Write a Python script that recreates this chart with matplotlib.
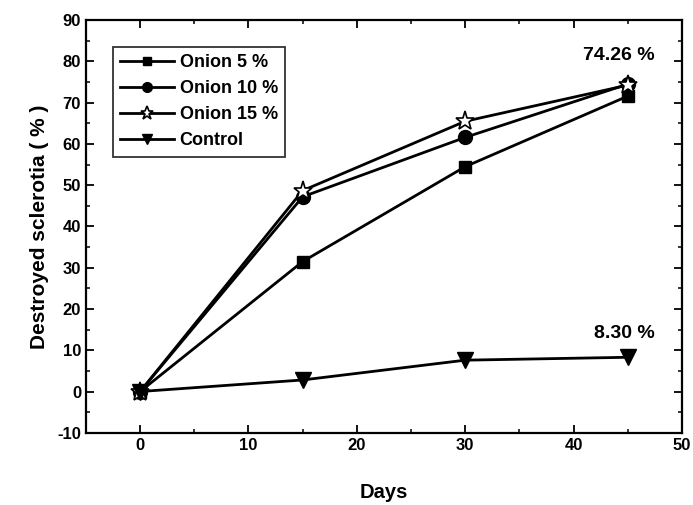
import matplotlib.pyplot as plt
from matplotlib.ticker import MultipleLocator

plt.rcParams['font.family'] = ['Liberation Sans', 'DejaVu Sans']
plt.rcParams['font.weight'] = 'bold'
plt.rcParams['axes.unicode_minus'] = False

days = [0, 15, 30, 45]
onion5 = [0, 31.5, 54.5, 71.6]
onion10 = [0, 47.2, 61.6, 74.5]
onion15 = [0, 48.7, 65.5, 74.26]
control = [0, 2.8, 7.6, 8.30]

fig = plt.figure(figsize=(6.93, 5.05), dpi=100)
ax = fig.add_axes([0.124, 0.143, 0.86, 0.817])

ax.plot(days, onion5, color='black', lw=2, marker='s', ms=9, label='Onion 5 %')
ax.plot(days, onion10, color='black', lw=2, marker='o', ms=10, label='Onion 10 %')
ax.plot(days, onion15, color='black', lw=2, marker='*', ms=14, mfc='white',
        mec='black', mew=1.2, label='Onion 15 %')
ax.plot(days, control, color='black', lw=2, marker='v', ms=11, label='Control')

ax.text(44.2, 79.5, '74.26 %', ha='center', va='bottom', fontsize=14, fontweight='bold')
ax.text(44.7, 12, '8.30 %', ha='center', va='bottom', fontsize=14, fontweight='bold')

ax.set_xlim(-5, 50)
ax.set_ylim(-10, 90)
ax.xaxis.set_major_locator(MultipleLocator(10))
ax.xaxis.set_minor_locator(MultipleLocator(5))
ax.yaxis.set_major_locator(MultipleLocator(10))
ax.yaxis.set_minor_locator(MultipleLocator(5))
ax.tick_params(which='both', direction='in', top=True, right=True, labelsize=12)
ax.tick_params(which='major', length=6, width=1.3)
ax.tick_params(which='minor', length=3, width=1.1)
for s in ax.spines.values():
    s.set_linewidth(1.6)

ax.set_xlabel('Days', fontsize=14.5, fontweight='bold', labelpad=22)
ax.set_ylabel('Destroyed sclerotia ( % )', fontsize=15, fontweight='bold', labelpad=6)

leg = ax.legend(loc='upper left', bbox_to_anchor=(0.045, 0.935), fontsize=13,
                frameon=True, fancybox=False, edgecolor='black', handlelength=3.0,
                handletextpad=0.3, borderpad=0.4, labelspacing=0.5, markerscale=0.7,
                borderaxespad=0)
leg.get_frame().set_linewidth(1.3)

fig.savefig('out.png', dpi=100)
